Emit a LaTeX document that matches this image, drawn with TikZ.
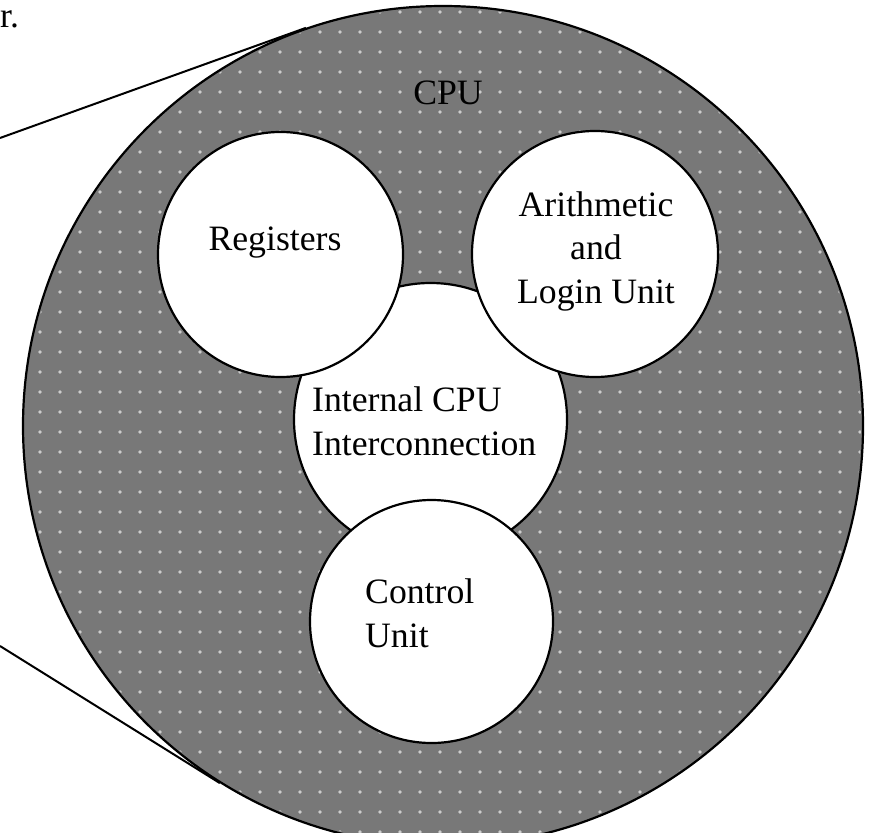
\documentclass[tikz,border=0pt]{standalone}
\usepackage{fontspec}
\setmainfont{Liberation Serif}
\usetikzlibrary{patterns.meta}
\definecolor{cpugray}{RGB}{120,120,120}
\definecolor{dotgray}{RGB}{205,205,205}
\pgfdeclarepattern{
  name=cpudots,
  type=uncolored,
  bottom left={\pgfpoint{-10pt}{-10pt}},
  top right={\pgfpoint{10pt}{10pt}},
  tile size={\pgfpoint{20pt}{20pt}},
  code={\pgfpathcircle{\pgfpointorigin}{1.8pt}\pgfusepath{fill}}
}
\begin{document}
\begin{tikzpicture}[x=1pt,y=-1pt,
  unit/.style={circle,draw=black,line width=2.2pt,fill=white,inner sep=0pt},
  outer/.style={circle,draw=black,line width=2.2pt,fill=cpugray,inner sep=0pt},
  lbl/.style={font=\fontsize{35.7}{43.5}\selectfont,inner sep=0pt},
  edge/.style={draw=black,line width=2pt}]
\useasboundingbox (0,0) rectangle (869,832);
% outer CPU circle
\node[outer,minimum size=840pt] (cpu) at (443,426) {};
\fill[pattern={cpudots},pattern color=dotgray] (cpu.center) circle[radius=418pt];
% zoom lines
\coordinate (p1) at (0,138);
\coordinate (p2) at (0,646);
\draw[edge] (p1) -- (cpu.109.6);
\draw[edge] (p2) -- (cpu.238.5);
% inner units
\node[unit,minimum size=273pt] (icc) at (430.5,419.5) {};
\node[unit,minimum size=245pt] (reg) at (280.5,254.5) {};
\node[unit,minimum size=246pt] (alu) at (595,254) {};
\node[unit,minimum size=243pt] (cu) at (431.5,621.5) {};
% labels (base = baseline of the last line)
\node[lbl,anchor=base] (tcpu) at (448,105) {CPU};
\node[lbl,anchor=base] (treg) at (275,250) {Registers};
\node[lbl,anchor=base,align=center] (talu) at (596,303) {Arithmetic\\and\\Login Unit};
\node[lbl,anchor=base west,align=left] (ticc) at (312,455) {Internal CPU\\Interconnection};
\node[lbl,anchor=base west,align=left] (tcu) at (365,647) {Control\\Unit};
\node[lbl,anchor=base west] (tr) at (0,28) {r.};
\end{tikzpicture}
\end{document}
